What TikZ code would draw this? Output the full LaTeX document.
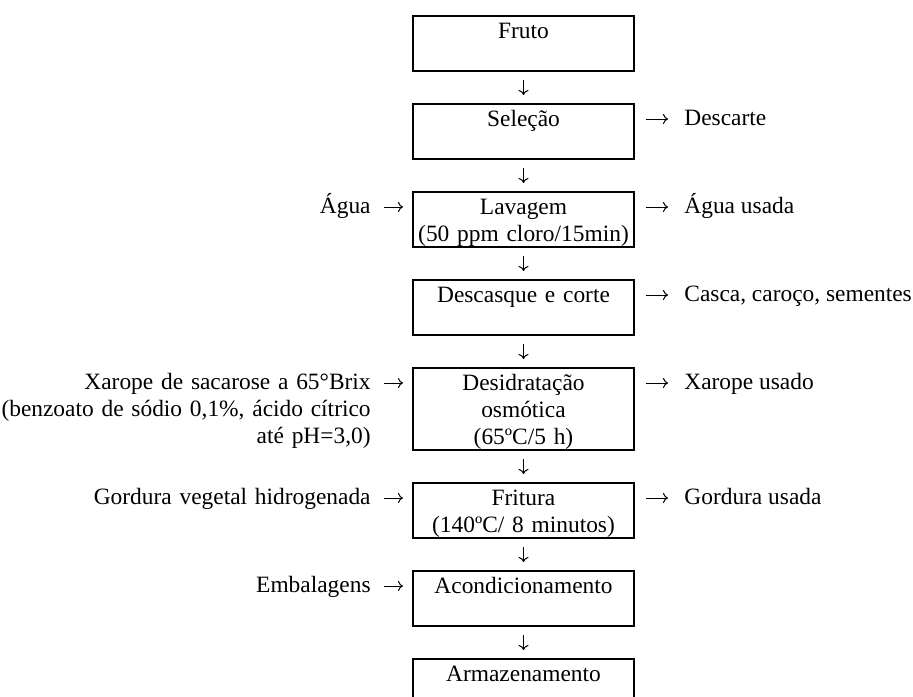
\documentclass[tikz,border=0pt]{standalone}
\usepackage{fontspec}
\setmainfont{Liberation Serif}
\usetikzlibrary{positioning}
\usetikzlibrary{arrows.meta}

\begin{document}
\begin{tikzpicture}[x=0.5pt, y=-0.5pt, font=\fontsize{11.7}{13.5}\selectfont,
		etapa/.style={draw, line width=1pt, text width=108pt, inner xsep=1.25pt, inner ysep=0pt, align=center, text height=11pt, text depth=16.5pt},
		seta/.style={-{To[length=2.5pt, width=5pt]}, line width=0.5pt},
		entrada/.style={inner sep=0pt, text width=200pt, align=right, anchor=base east},
		saida/.style={inner sep=0pt, anchor=base west}]
		\useasboundingbox (0,0) rectangle (913,696);
		% etapas do processo, uma abaixo da outra
		\node[etapa, anchor=north] (fruto) at (523.5,15) {Fruto};
		\node[etapa, below=15.5pt of fruto] (selecao) {Seleção};
		\node[etapa, below=15.5pt of selecao] (lavagem) {Lavagem\\(50 ppm cloro/15min)};
		\node[etapa, below=15.5pt of lavagem] (descasque) {Descasque e corte};
		\node[etapa, below=15.5pt of descasque, text depth=30pt] (desid) {Desidratação\\osmótica\\(65ºC/5 h)};
		\node[etapa, below=15.5pt of desid] (fritura) {Fritura\\(140ºC/ 8 minutos)};
		\node[etapa, below=15.5pt of fritura] (acond) {Acondicionamento};
		\node[etapa, below=15.5pt of acond] (armaz) {Armazenamento};
		% setas entre as etapas
		\foreach \a/\b in {fruto/selecao, selecao/lavagem, lavagem/descasque, descasque/desid, desid/fritura, fritura/acond, acond/armaz}
			\draw[seta, shorten <=4pt, shorten >=4pt] (\a) -- (\b);
		% saidas (lado direito)
		\foreach \c/\t in {selecao/Descarte, lavagem/Água usada, descasque/{Casca, caroço, sementes}, desid/Xarope usado, fritura/Gordura usada} {
			\node[saida] (s-\c) at ([xshift=24.5pt, yshift=-11pt]\c.north east) {\t};
			\draw[seta] ([xshift=5.5pt, yshift=-8pt]\c.north east) -- ([xshift=-8pt, yshift=3pt]s-\c.base west);
		}
		% entradas (lado esquerdo)
		\foreach \c/\t in {lavagem/Água, desid/{Xarope de sacarose a 65°Brix\\(benzoato de sódio 0,1\%, ácido cítrico\\até pH=3,0)}, fritura/Gordura vegetal hidrogenada, acond/Embalagens} {
			\node[entrada] (e-\c) at ([xshift=-20.5pt, yshift=-11pt]\c.north west) {\t};
			\draw[seta] ([xshift=6.5pt, yshift=3pt]e-\c.base east) -- ([xshift=-4.5pt, yshift=-8pt]\c.north west);
		}
	\end{tikzpicture}
\end{document}
